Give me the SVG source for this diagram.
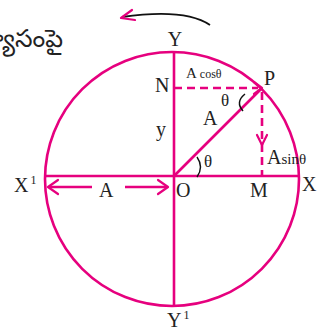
<svg xmlns="http://www.w3.org/2000/svg" width="325" height="329" viewBox="0 0 325 329">
<defs>
<style>
.pk{stroke:#e6007e;fill:none;stroke-width:2.6}
.dash{stroke:#e6007e;fill:none;stroke-width:2.6;stroke-dasharray:8 5}
.lbl{font-family:"Liberation Serif","DejaVu Serif",serif;fill:#222;font-size:20px}
.sm{font-size:12px}
.ah{stroke:#e6007e;fill:none;stroke-width:2.2;stroke-linecap:round;stroke-linejoin:round}
</style>
</defs>
<rect width="325" height="329" fill="#fff"/>
<text x="63" y="47" text-anchor="end" style="font-family:'Noto Sans Telugu','Noto Sans',sans-serif;font-size:25px;fill:#222">వ్యాసంపై</text>
<g id="rotation">
<path d="M210 25 Q185 8 122 17" fill="none" stroke="#111" stroke-width="1.8"/>
<path class="ah" d="M132 10 L121 18 L135 20"/>
</g>
<g id="circle"><circle class="pk" cx="172" cy="179" r="127"/></g>
<g id="connectors">
<line class="pk" x1="174" y1="53" x2="174" y2="305"/>
<line class="pk" x1="45" y1="176" x2="299" y2="176"/>
<line class="pk" x1="174" y1="176" x2="262" y2="88"/>
<line class="dash" x1="174" y1="88" x2="258" y2="88"/>
<path class="ah" d="M254 82 L262 88 L254 94"/>
<line class="dash" x1="262" y1="92" x2="262" y2="176"/>
<path class="ah" d="M257 135 L262 145 L267 135"/>
<line class="pk" x1="50" y1="187" x2="92" y2="187"/>
<path class="ah" d="M58 180 L48 187 L58 194"/>
<line class="pk" x1="125" y1="187" x2="167" y2="187"/>
<path class="ah" d="M158 180 L168 187 L158 194"/>
<path d="M197 157 Q204 167 197 177" fill="none" stroke="#111" stroke-width="1.4"/>
<path d="M245 94 Q235 102 243 111" fill="none" stroke="#111" stroke-width="1.5"/>
</g>
<g id="labels">
<text class="lbl" x="175" y="46" text-anchor="middle">Y</text>
<text class="lbl" x="155" y="92">N</text>
<text class="lbl" x="186" y="78" style="font-size:15px">A<tspan class="sm" dx="3">cosθ</tspan></text>
<text class="lbl" x="264" y="85">P</text>
<text class="lbl" x="221" y="106" style="font-size:17px">θ</text>
<text class="lbl" x="203" y="125">A</text>
<text class="lbl" x="156" y="136">y</text>
<text class="lbl" x="204" y="167" style="font-size:17px">θ</text>
<text class="lbl" x="267" y="164">A<tspan style="font-size:15px">sinθ</tspan></text>
<text class="lbl" x="302" y="191">X</text>
<text class="lbl" x="176" y="197">O</text>
<text class="lbl" x="250" y="197">M</text>
<text class="lbl" x="14" y="192">X<tspan class="sm" dx="2" dy="-8">1</tspan></text>
<text class="lbl" x="99" y="197">A</text>
<text class="lbl" x="167" y="327">Y<tspan class="sm" dx="2" dy="-8">1</tspan></text>
</g>
</svg>
